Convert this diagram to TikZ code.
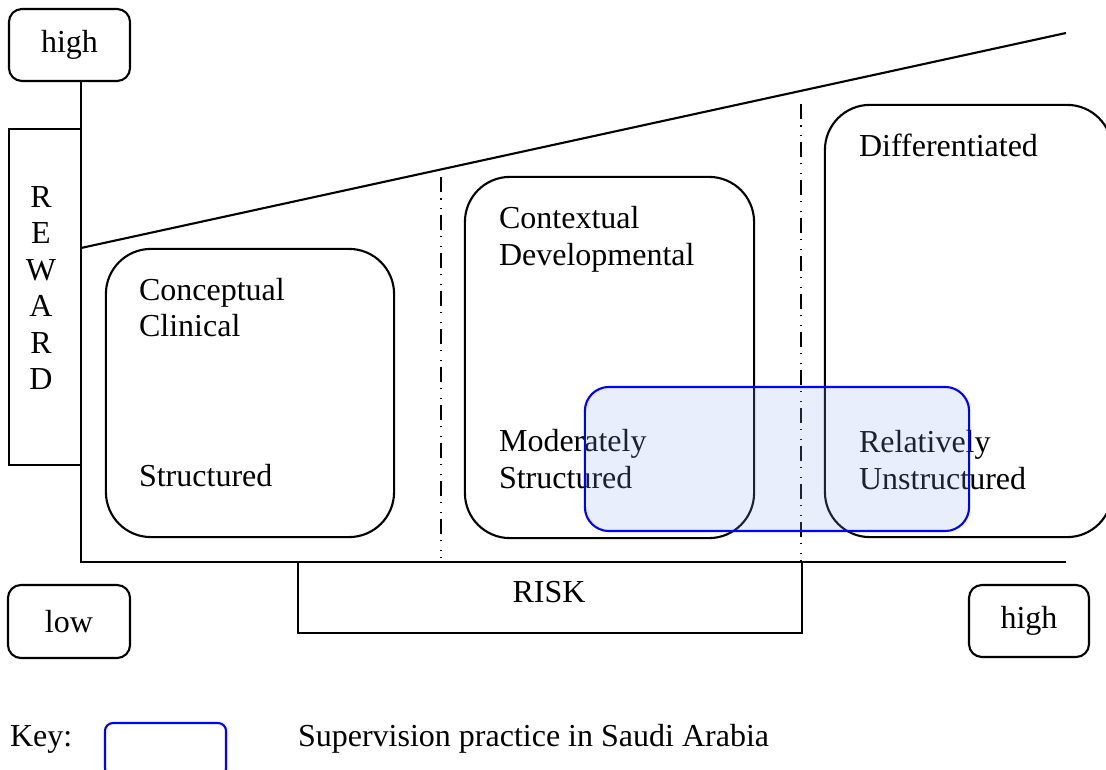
\documentclass[tikz,border=0pt]{standalone}
\usepackage{fontspec}
\setmainfont{Liberation Serif}
\definecolor{sablue}{RGB}{140,170,240}
\begin{document}
\begin{tikzpicture}[x=0.01cm, y=-0.01cm, line width=0.6pt,
  font=\fontsize{9.1pt}{10.5pt}\selectfont,
  endbox/.style={draw, rounded corners=0.13cm, minimum width=1.21cm, minimum height=0.72cm, inner sep=0pt},
  zone/.style={draw, rounded corners=0.45cm, inner sep=0pt},
  lbl/.style={anchor=base west, align=left, inner sep=0pt},
  divider/.style={line width=0.5pt, dash pattern=on 4.3pt off 1.7pt on 0.4pt off 2.4pt on 0.4pt off 1.6pt}]
\useasboundingbox (0,0) rectangle (1106,770);

\node (hitop) [endbox] at (69.5,45) {high};
\node (reward) [draw, minimum width=0.72cm, minimum height=3.36cm, inner sep=0pt] at (45,297) {};
\node (rewardtxt) [align=center, inner sep=0pt, font=\fontsize{9.1pt}{10.4pt}\selectfont] at (41,288) {R\\E\\W\\A\\R\\D};

\coordinate (origin) at (81,562);
\coordinate (xend) at (1066,562);
\coordinate (slopeL) at (81,248);
\coordinate (slopeR) at (1066,33);
\coordinate (d1top) at (441,177);
\coordinate (d1bot) at (441,557);
\coordinate (d2top) at (801,104);
\coordinate (d2bot) at (801,562);

\draw (hitop.south -| origin) -- (origin) -- (xend);
\draw (slopeL) -- (slopeR);
\draw [divider] (d1top) -- (d1bot);
\draw [divider] (d2top) -- (d2bot);

\node (concbox) [zone, minimum width=2.88cm, minimum height=2.88cm] at (250,393) {};
\node (contbox) [zone, minimum width=2.89cm, minimum height=3.61cm] at (609.5,357.5) {};
\node (diffbox) [zone, minimum width=2.87cm, minimum height=4.32cm] at (968.5,321) {};

\node (conc) [lbl] at (138,337) {Conceptual\\Clinical};
\node (struct) [lbl] at (138,486) {Structured};
\node (cont) [lbl] at (498,265) {Contextual\\Developmental};
\node (modstruct) [lbl] at (498,488) {Moderately\\Structured};
\node (diff) [lbl] at (858,157) {Differentiated};
\node (relunstruct) [lbl] at (858,489) {Relatively\\Unstructured};

\node (riskbox) [draw, minimum width=5.04cm, minimum height=0.71cm, inner sep=0pt] at (550,597.5) {};
\node (risk) [inner sep=0pt] at (549,592.5) {RISK};

\node (lo) [endbox, minimum width=1.22cm, minimum height=0.73cm] at (69,621.5) {low};
\node (hiright) [endbox, minimum width=1.20cm] at (1029,621) {high};

\node (sabox) [draw=blue, fill=sablue, fill opacity=0.2, rounded corners=0.24cm, minimum width=3.84cm, minimum height=1.44cm, inner sep=0pt] at (777,459) {};

\node (key) [lbl] at (9,746) {Key:};
\node (keybox) [draw=blue, rounded corners=0.08cm, minimum width=1.21cm, minimum height=0.53cm, inner sep=0pt] at (165.5,749.5) {};
\node (keytxt) [lbl] at (297,746) {Supervision practice in Saudi Arabia};
\end{tikzpicture}
\end{document}
